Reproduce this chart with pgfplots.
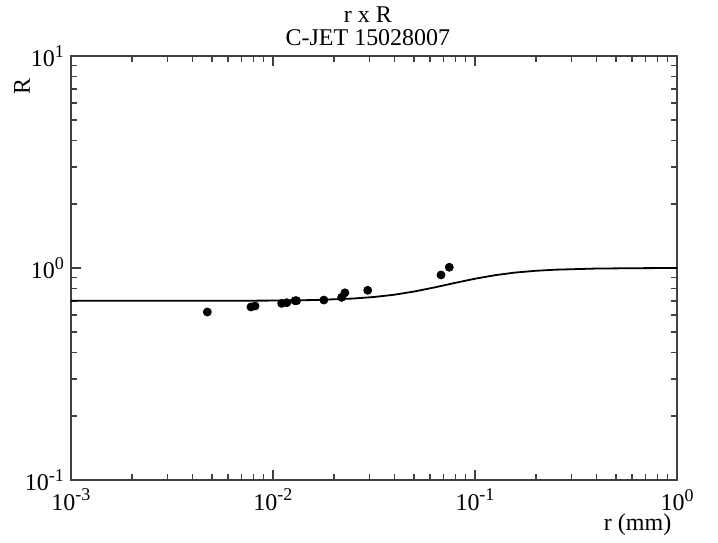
\documentclass[border=0pt]{standalone}
\usepackage{fontspec}
\setmainfont{Liberation Serif}
\usepackage{pgfplots}
\pgfplotsset{compat=1.18}
\usetikzlibrary{calc}
\newcommand{\pw}[1]{10\raisebox{0.85ex}{\fontsize{9}{9}\selectfont #1}}
\begin{document}
\begin{tikzpicture}
\begin{axis}[
  name=ax,
  xmode=log, ymode=log,
  scale only axis, width=303pt, height=212pt,
  xmin=0.001, xmax=1, ymin=0.1, ymax=10,
  xtick={0.001,0.01,0.1,1},
  xticklabels={\pw{-3},\pw{-2},\pw{-1},\pw{0}},
  ytick={0.1,1,10},
  yticklabels={\pw{-1},\pw{0},\pw{1}},
  tick align=inside, xtick pos=both, ytick pos=both,
  major tick length=5pt, minor tick length=3pt,
  axis line style={black!75, line width=0.8pt},
  every tick/.style={black!75, line width=0.7pt},
  tick label style={font=\fontsize{12}{14}\selectfont},
  xticklabel style={yshift=-1pt},
  clip=false,
]
% fitted curve
\addplot[black, line width=0.9pt] coordinates {
  (0.001,0.700) (0.00316,0.700) (0.00631,0.7007) (0.010,0.702)
  (0.01585,0.706) (0.02512,0.718) (0.03162,0.730) (0.03981,0.748)
  (0.05012,0.775) (0.0631,0.810) (0.07943,0.850) (0.1,0.890)
  (0.1259,0.925) (0.1585,0.952) (0.1995,0.970) (0.2512,0.982)
  (0.3981,0.994) (0.631,0.998) (1.0,1.0)
};
% measured points
\addplot[only marks, mark=*, mark size=2pt, black] coordinates {
  (0.00473,0.620) (0.00778,0.655) (0.00815,0.662) (0.01104,0.681)
  (0.01170,0.686) (0.01285,0.701) (0.01309,0.701) (0.01786,0.706)
  (0.02187,0.727) (0.02270,0.764) (0.02944,0.785) (0.0679,0.927)
  (0.0746,1.008)
};
\node[font=\fontsize{12}{14}\selectfont] at ([yshift=20.5pt]rel axis cs:0.49,1) {r x R};
\node[font=\fontsize{12}{14}\selectfont] at ([yshift=9pt]rel axis cs:0.49,1) {C-JET 15028007};
\node[font=\fontsize{12}{14}\selectfont] at ([yshift=-22.5pt]rel axis cs:0.935,0) {r (mm)};
\node[font=\fontsize{12}{14}\selectfont, rotate=90] at ([xshift=-24.5pt,yshift=-15.5pt]rel axis cs:0,1) {R};
\end{axis}
\path[use as bounding box] ($(ax.south west)+(-35.5pt,-31pt)$) rectangle ($(ax.north east)+(20.5pt,28pt)$);
\end{tikzpicture}
\end{document}
